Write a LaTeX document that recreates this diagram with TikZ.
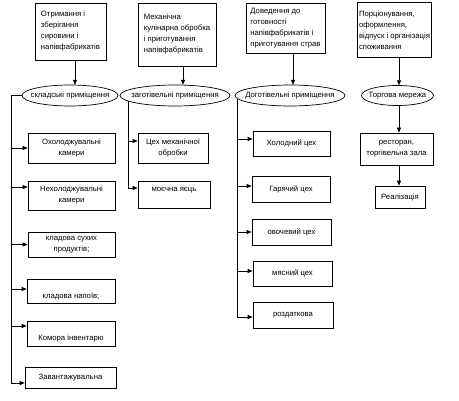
\documentclass[tikz,border=0pt]{standalone}
\usepackage{fontspec}
\setmainfont{Liberation Sans}
\usetikzlibrary{arrows.meta,shapes.geometric}
\begin{document}
\begin{tikzpicture}[x=1pt,y=-1pt,
  font=\fontsize{7.7}{11}\selectfont,
  ln/.style={line width=0.7pt},
  arr/.style={line width=0.7pt,-{Triangle[length=5pt,width=4pt]}},
  box/.style={draw,line width=0.7pt,inner sep=0pt,align=center},
  topbox/.style={draw,line width=0.7pt,inner sep=0pt,align=left},
  ell/.style={inner sep=0pt}]
\useasboundingbox (0,0) rectangle (459,401);
% top boxes
\node[topbox,minimum width=71pt,minimum height=57pt] (t1) at (70.5,31.5) {Отримання і\\зберігання\\сировини і\\напівфабрикатів};
\node[topbox,minimum width=78pt,minimum height=63pt] (t2) at (177,34.5) {Механічна\\кулінарна обробка\\і приготування\\напівфабрикатів};
\node[topbox,minimum width=79pt,minimum height=50pt] (t3) at (285.5,28) {Доведення до\\готовності\\напівфабрикатів і\\приготування страв};
\node[topbox,minimum width=74pt,minimum height=55pt] (t4) at (394.5,30) {Порціонування,\\оформлення,\\відпуск і організація\\споживання};
% ellipses
\node[ell,minimum width=96pt,minimum height=21pt] (e1) at (70,95.5) {складські приміщення};
\node[ell,minimum width=110pt,minimum height=21pt] (e2) at (175,95.5) {заготівельні приміщення};
\node[ell,minimum width=110pt,minimum height=21pt] (e3) at (290,95.5) {Доготівельні приміщення};
\node[ell,minimum width=72pt,minimum height=20pt] (e4) at (397.5,95.5) {Торгова мережа};
\draw[ln] (e1.center) ellipse [x radius=48, y radius=10.5];
\draw[ln] (e2.center) ellipse [x radius=55, y radius=10.5];
\draw[ln] (e3.center) ellipse [x radius=55, y radius=10.5];
\draw[ln] (e4.center) ellipse [x radius=36, y radius=10];
% top arrows
\coordinate (x1) at (75,0);
\coordinate (x2) at (183,0);
\coordinate (x3) at (293,0);
\coordinate (R) at (399,0);
\draw[arr] (t1.south -| x1) -- (e1.north -| x1);
\draw[arr] (t2.south -| x2) -- (e2.north -| x2);
\draw[arr] (t3.south -| x3) -- (e3.north -| x3);
\draw[arr] (t4.south -| R) -- (e4.north -| R);
% left column boxes
\node[box,minimum width=87pt,minimum height=30pt] (b1) at (71.5,148) {Охолоджувальні\\камери};
\node[box,minimum width=87pt,minimum height=29pt] (b2) at (71.5,195.5) {Нехолоджувальні\\камери};
\node[box,minimum width=87pt,minimum height=25pt] (b3) at (71.5,244.5) {кладова сухих\\продуктів;};
\node[box,minimum width=88pt,minimum height=24pt] (b4) at (71,291) {};
\node[anchor=base] (b4t) at (71,299) {кладова напоїв;};
\node[box,minimum width=88pt,minimum height=25pt] (b5) at (71,333.5) {};
\node[anchor=base] (b5t) at (71,341) {Комора інвентарю};
\node[box,minimum width=91pt,minimum height=21pt] (b6) at (70.5,377.5) {Завантажувальна};
% left spine
\coordinate (L) at (11,383);
\draw[ln] (e1.west) -| (L);
\draw[arr] (L) -- (L -| b6.west);
\draw[arr] (b1.west -| L) -- (b1.west);
\coordinate (b2a) at ([yshift=8.5pt]b2.west);
\draw[arr] (b2a -| L) -- (b2a);
\draw[arr] (b3.west -| L) -- (b3.west);
\coordinate (b4a) at ([yshift=2pt]b4.west);
\draw[arr] (b4a -| L) -- (b4a);
\coordinate (b5a) at ([yshift=7.5pt]b5.west);
\draw[arr] (b5a -| L) -- (b5a);
% middle column
\node[box,minimum width=70pt,minimum height=30pt] (m1) at (173,148) {Цех механічної\\обробки};
\node[box,minimum width=72pt,minimum height=27pt] (m2) at (174,194.5) {};
\node[anchor=base] (m2t) at (174,192) {моєчна яєць};
\coordinate (M0) at (128,101);
\coordinate (m1a) at ([yshift=7pt]m1.west);
\coordinate (m2a) at ([yshift=6.5pt]m2.west);
\draw[arr] (M0) |- (m2a);
\draw[arr] (m1a -| M0) -- (m1a);
% third column
\node[box,minimum width=77pt,minimum height=25pt] (d1) at (291.5,143.5) {Холодний цех};
\node[box,minimum width=78pt,minimum height=26pt] (d2) at (291,189) {Гарячий цех};
\node[box,minimum width=79pt,minimum height=26pt] (d3) at (291.5,232) {овочевий цех};
\node[box,minimum width=79pt,minimum height=25pt] (d4) at (292.5,273.5) {мясний цех};
\node[box,minimum width=80pt,minimum height=26pt] (d5) at (293,315) {роздаткова};
\coordinate (D0) at (237,99);
\coordinate (d1a) at ([yshift=4.5pt]d1.west);
\coordinate (d2a) at ([yshift=3pt]d2.west);
\coordinate (d4a) at ([yshift=2.5pt]d4.west);
\coordinate (d5a) at ([yshift=-2pt]d5.west);
\draw[arr] (D0) |- (d5a);
\draw[arr] (d1a -| D0) -- (d1a);
\draw[arr] (d2a -| D0) -- (d2a);
\draw[arr] (d3.west -| D0) -- (d3.west);
\draw[arr] (d4a -| D0) -- (d4a);
% right column
\node[box,minimum width=73pt,minimum height=32pt] (r1) at (396.5,149) {ресторан,\\торгівельна зала};
\node[box,minimum width=50pt,minimum height=22pt] (r2) at (400,197) {Реалізація};
\draw[arr] (e4.south -| R) -- (r1.north -| R);
\draw[arr] (r1.south -| R) -- (r2.north -| R);
\end{tikzpicture}
\end{document}
